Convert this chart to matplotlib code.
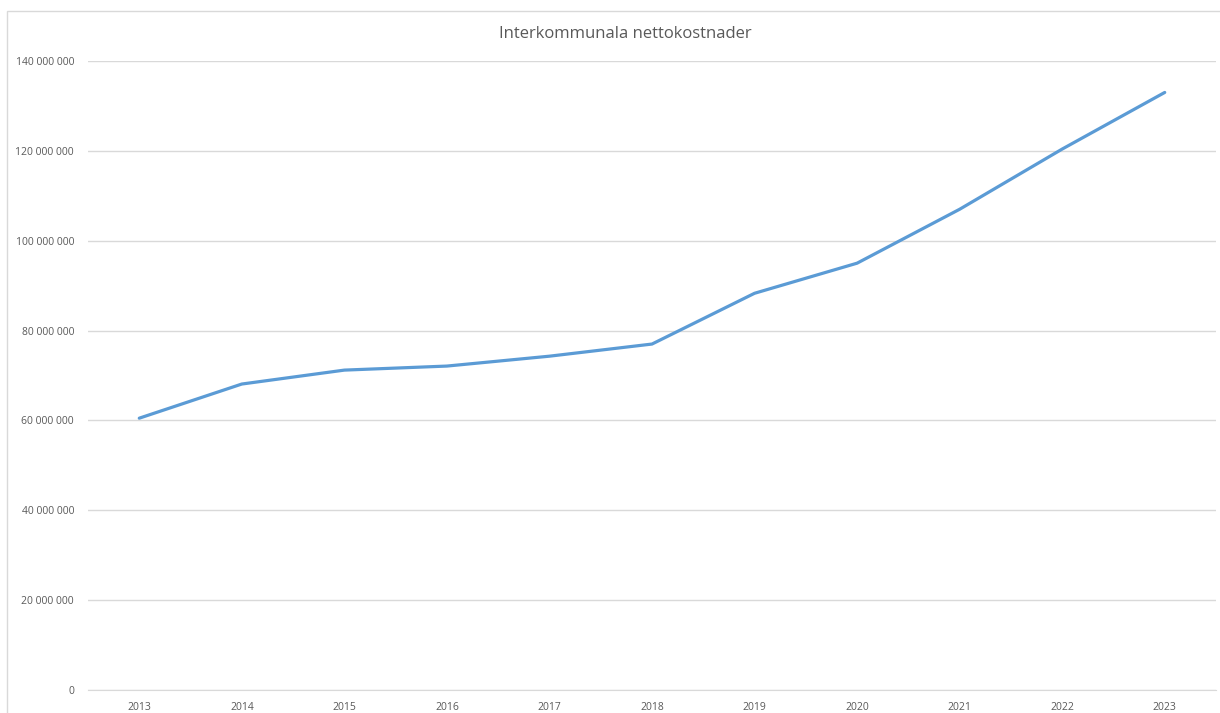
import matplotlib
matplotlib.use('Agg')
import matplotlib.pyplot as plt
from matplotlib.patches import Rectangle
from matplotlib.ticker import FuncFormatter

years = ['2013', '2014', '2015', '2016', '2017', '2018', '2019', '2020', '2021', '2022', '2023']
kostnad = [60.5e6, 68.1e6, 71.2e6, 72.1e6, 74.3e6, 77.0e6, 88.3e6, 95.0e6, 107.0e6, 120.4e6, 133.0e6]
yticks = [0, 20e6, 40e6, 60e6, 80e6, 100e6, 120e6, 140e6]

plt.rcParams['font.family'] = ['Open Sans', 'DejaVu Sans']
txt = '#595959'

fig = plt.figure(figsize=(12.2, 7.13), dpi=100)
# chart frame, cut off on right and bottom like the screenshot
fig.patches.append(Rectangle((7 / 1220, -0.5), 2, 0.5 + 1 - 11 / 713, transform=fig.transFigure,
                             fill=False, edgecolor='#d9d9d9', linewidth=1))

ax = fig.add_axes([88 / 1220, 1 - 690 / 713, (1216 - 88) / 1220, (690 - 61) / 713])
ax.plot(range(len(years)), kostnad, color='#5B9BD5', linewidth=2.3, solid_capstyle='round')

ax.set_xlim(-0.5, len(years) - 0.5)
ax.set_ylim(0, 140e6)
ax.set_xticks(range(len(years)))
ax.set_xticklabels(years)
ax.set_yticks(yticks)
ax.yaxis.set_major_formatter(FuncFormatter(lambda v, p: f'{int(v):,}'.replace(',', ' ')))
ax.tick_params(length=0, labelsize=7.5, colors=txt, pad=10)
ax.tick_params(axis='x', pad=9)
ax.grid(axis='y', color='#d9d9d9', linewidth=1)
ax.set_axisbelow(True)
for s in ['top', 'right', 'left']:
    ax.spines[s].set_visible(False)
ax.spines['bottom'].set_color('#d9d9d9')

fig.text(625 / 1220, 1 - 34 / 713, 'Interkommunala nettokostnader', ha='center', va='center',
         fontsize=12, color=txt)

fig.savefig('out.png', dpi=100)
